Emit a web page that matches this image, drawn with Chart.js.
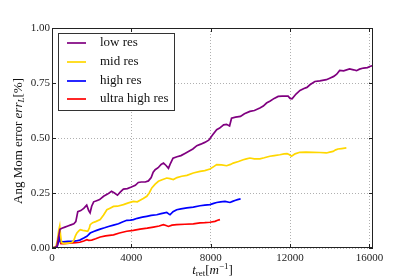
<!DOCTYPE html>
<html><head><meta charset="utf-8">
<script src="https://cdn.jsdelivr.net/npm/chart.js@4/dist/chart.umd.min.js"></script>
<style>html,body{margin:0;padding:0;background:#fff}canvas{display:block}</style>
</head><body>
<canvas id="c" width="415" height="277"></canvas>
<script>
const seriesNames = ['low res', 'mid res', 'high res', 'ultra high res'];
const seriesColors = ['#800080', '#FFD700', '#0000FF', '#FF0000'];

const lowT = [0,150,250,330,400,500,650,800,950,1100,1200,1300,1450,1600,1750,1850,1920,2000,2100,2250,2400,2600,2800,3000,3150,3300,3450,3600,3800,4000,4200,4350,4500,4700,4860,5000,5100,5200,5350,5500,5620,5750,5870,5950,6100,6300,6500,6700,6900,7100,7300,7500,7700,7900,8100,8300,8450,8650,8800,8950,9050,9250,9500,9700,9975,10200,10478,10650,10814,11000,11200,11400,11600,11900,12000,12100,12300,12500,12700,12850,13000,13250,13500,13830,14000,14200,14350,14500,14700,15000,15200,15350,15500,15700,15900,16050,16180];
const lowV = [0,0.003,0.01,0.05,0.085,0.09,0.095,0.1,0.105,0.11,0.12,0.165,0.17,0.18,0.195,0.17,0.16,0.19,0.21,0.215,0.22,0.235,0.245,0.258,0.25,0.24,0.255,0.268,0.27,0.277,0.285,0.298,0.3,0.3,0.305,0.32,0.345,0.356,0.365,0.38,0.386,0.375,0.362,0.38,0.408,0.415,0.42,0.43,0.44,0.45,0.465,0.472,0.48,0.49,0.515,0.538,0.545,0.56,0.562,0.555,0.59,0.595,0.598,0.61,0.621,0.625,0.636,0.645,0.659,0.668,0.68,0.689,0.69,0.69,0.68,0.678,0.7,0.716,0.725,0.73,0.742,0.757,0.76,0.765,0.772,0.78,0.79,0.807,0.805,0.814,0.81,0.806,0.813,0.818,0.82,0.826,0.829];

const midT = [0,200,280,340,390,430,480,600,800,1000,1100,1180,1255,1350,1425,1550,1700,1800,1880,1926,2050,2200,2430,2600,2766,2900,3100,3300,3600,3850,4105,4300,4440,4600,4778,4900,5030,5200,5364,5550,5784,5950,6117,6300,6538,6800,7122,7460,7700,7963,8150,8300,8550,8800,9000,9135,9400,9638,9800,9975,10200,10478,10700,10981,11200,11484,11700,11850,11950,12075,12250,12490,12800,13160,13500,13832,14000,14167,14300,14418,14600,14837];
const midV = [0,0.005,0.04,0.08,0.1,0.06,0.025,0.02,0.022,0.025,0.035,0.055,0.068,0.078,0.083,0.08,0.078,0.076,0.09,0.106,0.115,0.12,0.129,0.15,0.174,0.18,0.189,0.19,0.197,0.205,0.212,0.21,0.217,0.225,0.235,0.25,0.273,0.29,0.303,0.31,0.318,0.315,0.311,0.32,0.326,0.33,0.341,0.348,0.352,0.359,0.37,0.379,0.378,0.374,0.38,0.386,0.393,0.401,0.405,0.409,0.405,0.405,0.41,0.417,0.42,0.424,0.428,0.429,0.425,0.417,0.428,0.435,0.436,0.435,0.434,0.432,0.436,0.439,0.446,0.45,0.452,0.455];

const highT = [0,250,330,380,430,550,800,1000,1200,1400,1600,1760,1926,2100,2250,2430,2650,2849,3100,3350,3550,3770,3950,4105,4300,4550,4778,5000,5280,5500,5784,5880,5950,6100,6285,6500,6800,7122,7460,7700,7963,8150,8300,8500,8720,8970,9100,9220,9350,9505];
const highV = [0,0.005,0.03,0.045,0.03,0.028,0.03,0.03,0.032,0.036,0.045,0.053,0.068,0.075,0.08,0.086,0.092,0.098,0.104,0.11,0.118,0.126,0.127,0.129,0.135,0.14,0.144,0.148,0.151,0.156,0.162,0.155,0.151,0.165,0.174,0.178,0.182,0.186,0.192,0.195,0.197,0.203,0.207,0.21,0.212,0.207,0.212,0.216,0.22,0.223];

const ultraT = [0,250,320,360,400,450,600,900,1200,1400,1600,1760,1850,2000,2200,2430,2700,3100,3400,3770,4100,4440,4800,5113,5400,5614,5750,5865,6050,6285,6700,7122,7460,7700,7963,8216,8350,8465];
const ultraV = [0,0.003,0.03,0.05,0.03,0.02,0.02,0.022,0.024,0.026,0.032,0.038,0.035,0.036,0.042,0.05,0.055,0.06,0.068,0.076,0.08,0.086,0.09,0.095,0.1,0.106,0.102,0.098,0.104,0.106,0.108,0.11,0.114,0.115,0.117,0.121,0.126,0.129];

const xTicks = [0, 4000, 8000, 12000, 16000];
const yTicks = [0, 0.25, 0.5, 0.75, 1.0];
const xMax = 16180;

const allT = [lowT, midT, highT, ultraT];
const allV = [lowV, midV, highV, ultraV];

const SERIF = '"Liberation Serif", "DejaVu Serif", serif';

const datasets = seriesNames.map((n, i) => ({
  label: n,
  data: allT[i].map((t, j) => ({x: t, y: allV[i][j]})),
  borderColor: seriesColors[i],
  borderWidth: 1.7,
  pointRadius: 0,
  tension: 0,
  fill: false
}));

function drawParts(ctx, parts, x, y, align) {
  // parts: [{text, font, dy}]
  let total = 0;
  parts.forEach(p => { ctx.font = p.font; p.w = ctx.measureText(p.text).width; total += p.w; });
  let cx = align === 'center' ? x - total / 2 : x;
  parts.forEach(p => { ctx.font = p.font; ctx.fillText(p.text, cx, y + (p.dy || 0)); cx += p.w; });
}

const decor = {
  id: 'decor',
  afterDraw(chart) {
    const ctx = chart.ctx;
    const a = chart.chartArea;
    const xs = chart.scales.x, ys = chart.scales.y;
    ctx.save();
    // frame
    ctx.strokeStyle = '#222';
    ctx.lineWidth = 1;
    ctx.strokeRect(Math.round(a.left) + 0.5, Math.round(a.top) + 0.5, Math.round(a.right - a.left) - 1, Math.round(a.bottom - a.top) - 1);
    // inward ticks
    ctx.beginPath();
    xTicks.forEach(v => {
      const px = Math.round(xs.getPixelForValue(v)) + 0.5;
      ctx.moveTo(px, a.bottom); ctx.lineTo(px, a.bottom - 4);
      ctx.moveTo(px, a.top); ctx.lineTo(px, a.top + 4);
    });
    yTicks.forEach(v => {
      const py = Math.round(ys.getPixelForValue(v)) + 0.5;
      ctx.moveTo(a.left, py); ctx.lineTo(a.left + 4, py);
      ctx.moveTo(a.right, py); ctx.lineTo(a.right - 4, py);
    });
    ctx.stroke();

    // legend
    const lx = 58, ly = 33, lw = 116, lh = 77;
    ctx.fillStyle = '#fff';
    ctx.fillRect(lx, ly, lw, lh);
    ctx.strokeStyle = '#333';
    ctx.strokeRect(lx + 0.5, ly + 0.5, lw, lh);
    const rowY = [43, 62, 81, 99];
    ctx.textBaseline = 'middle';
    ctx.textAlign = 'left';
    seriesNames.forEach((n, i) => {
      ctx.strokeStyle = seriesColors[i];
      ctx.lineWidth = 1.7;
      ctx.beginPath();
      ctx.moveTo(67, rowY[i]); ctx.lineTo(86, rowY[i]);
      ctx.stroke();
      ctx.fillStyle = '#111';
      ctx.font = '13px ' + SERIF;
      ctx.fillText(n, 100, rowY[i]);
    });

    // x title
    ctx.fillStyle = '#111';
    ctx.textBaseline = 'alphabetic';
    drawParts(ctx, [
      {text: 't', font: 'italic 13px ' + SERIF},
      {text: 'ret', font: '9px ' + SERIF, dy: 2},
      {text: '[', font: '13px ' + SERIF},
      {text: 'm', font: 'italic 13px ' + SERIF},
      {text: '\u22121', font: '9px ' + SERIF, dy: -5},
      {text: ']', font: '13px ' + SERIF}
    ], (a.left + a.right) / 2, 274, 'center');

    // y title
    ctx.translate(19, (a.top + a.bottom) / 2 + 3);
    ctx.rotate(-Math.PI / 2);
    ctx.textBaseline = 'middle';
    drawParts(ctx, [
      {text: 'Ang Mom error ', font: '13px ' + SERIF},
      {text: 'err', font: 'italic 13px ' + SERIF},
      {text: 'L', font: 'italic 9px ' + SERIF, dy: 3},
      {text: '[%]', font: '13px ' + SERIF}
    ], 0, 0, 'center');
    ctx.restore();
  }
};

new Chart(document.getElementById('c'), {
  type: 'line',
  data: { datasets },
  options: {
    responsive: false,
    animation: false,
    devicePixelRatio: 1,
    layout: { padding: { left: 0, right: 42, top: 28, bottom: 0 } },
    plugins: { legend: { display: false }, tooltip: { enabled: false } },
    scales: {
      x: {
        type: 'linear', min: 0, max: xMax,
        afterBuildTicks(s) { s.ticks = xTicks.map(v => ({ value: v })); },
        afterFit(s) { s.height = 29; s.paddingLeft = 0; s.paddingRight = 0; },
        ticks: { color: '#222', padding: 4, maxRotation: 0, font: { family: SERIF, size: 11 }, callback: v => String(v) },
        grid: { color: '#b0b0b0', lineWidth: 1, drawTicks: false },
        border: { display: false, dash: [1, 2] }
      },
      y: {
        type: 'linear', min: 0, max: 1,
        afterBuildTicks(s) { s.ticks = yTicks.map(v => ({ value: v })); },
        afterFit(s) { s.width = 52; s.paddingTop = 0; s.paddingBottom = 0; },
        ticks: { color: '#222', padding: 2, font: { family: SERIF, size: 11 }, callback: v => Number(v).toFixed(2) },
        grid: { color: '#b0b0b0', lineWidth: 1, drawTicks: false },
        border: { display: false, dash: [1, 2] }
      }
    }
  },
  plugins: [decor]
});
</script>
</body></html>
